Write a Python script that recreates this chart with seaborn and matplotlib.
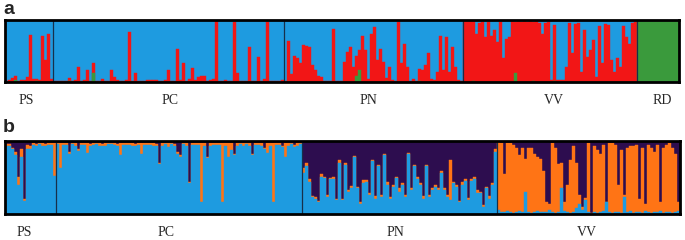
import numpy as np
import pandas as pd
import seaborn as sns
import matplotlib.pyplot as plt

# ---- panel a (K=3): per-individual red / green membership, blue is the rest
ps_a_red = [0.02, 0.03, 0.07, 0.06, 0.01, 0.03, 0.04, 0.08, 0.76, 0.05,
            0.04, 0.03, 0.74, 0.35, 0.78, 0.05]
ps_a_green = [0, 0, 0, 0.03, 0, 0, 0, 0, 0, 0, 0.01, 0, 0, 0, 0, 0]

pc_a_red = [0.01, 0.02, 0.01, 0.01, 0.02, 0.05, 0.01, 0.03, 0.25, 0.02,
            0.03, 0.19, 0.02, 0.16, 0.01, 0.02, 0.05, 0.01, 0.02, 0.19,
            0.08, 0.03, 0.01, 0.02, 0.03, 0.81, 0.02, 0.15, 0.01, 0.01,
            0.01, 0.04, 0.04, 0.04, 0.03, 0.01, 0.02, 0.03, 0.2, 0.02,
            0.01, 0.54, 0.03, 0.31, 0.02, 0.05, 0.22, 0.03, 0.08, 0.1,
            0.09, 0.02, 0.03, 0.05, 0.99, 0.02, 0.01, 0.04, 0.01, 0.02,
            0.97, 0.15, 0.02, 0.01, 0.01, 0.57, 0.01, 0.02, 0.4, 0.01,
            0.05, 0.97, 0.02, 0.01, 0.01, 0.02, 0.03]
pc_a_green = [0, 0, 0, 0, 0, 0.02, 0, 0, 0, 0,
              0, 0, 0, 0.15, 0, 0, 0, 0, 0, 0,
              0, 0, 0, 0, 0, 0, 0, 0, 0, 0,
              0, 0, 0, 0, 0, 0, 0, 0, 0, 0,
              0, 0, 0, 0, 0, 0, 0, 0, 0, 0,
              0, 0, 0, 0, 0, 0, 0, 0, 0, 0,
              0, 0, 0, 0, 0, 0, 0, 0, 0, 0,
              0, 0, 0, 0, 0, 0, 0]

pn_a_red = [0.02, 0.66, 0.13, 0.42, 0.38, 0.3, 0.6, 0.58, 0.57, 0.27,
            0.19, 0.09, 0.08, 0.02, 0.02, 0.01, 0.86, 0.01, 0.02, 0.01,
            0.32, 0.49, 0.57, 0.24, 0.32, 0.32, 0.74, 0.51, 0.05, 0.78,
            0.89, 0.35, 0.54, 0.32, 0.05, 0.24, 0.03, 0.02, 0.97, 0.3,
            0.62, 0.24, 0.02, 0.05, 0.02, 0.19, 0.19, 0.27, 0.46, 0.05,
            0.03, 0.16, 0.74, 0.19, 0.73, 0.16, 0.57, 0.24, 0.03, 0.02]
pn_a_green = [0, 0, 0, 0, 0, 0, 0, 0, 0, 0,
              0, 0, 0, 0, 0, 0, 0, 0, 0, 0,
              0, 0, 0, 0, 0.1, 0.2, 0, 0, 0, 0,
              0, 0, 0, 0, 0.02, 0, 0, 0, 0, 0,
              0, 0, 0, 0, 0, 0.02, 0, 0, 0, 0,
              0, 0, 0, 0, 0, 0, 0, 0, 0, 0]

# VV is mostly red, so the blue share hanging from the top is listed
vv_a_blue = [0.01, 0.01, 0.02, 0.01, 0.22, 0.05, 0.04, 0.27, 0.03, 0.26,
             0.16, 0.35, 0.04, 0.62, 0.3, 0.27, 0.02, 0.03, 0.02, 0.03,
             0.02, 0.04, 0.02, 0.03, 0.02, 0.05, 0.22, 0.05, 0.03, 0.97,
             0.08, 0.96, 0.97, 0.97, 0.76, 0.05, 0.54, 0.06, 0.05, 0.84,
             0.16, 0.59, 0.49, 0.32, 0.92, 0.1, 0.7, 0.06, 0.08, 0.65,
             0.84, 0.62, 0.75, 0.1, 0.27, 0.38, 0.05, 0.03]
vv_a_green = [0, 0, 0, 0.02, 0, 0, 0, 0, 0, 0,
              0, 0, 0, 0, 0, 0, 0, 0.15, 0, 0,
              0, 0, 0, 0.02, 0, 0, 0, 0, 0, 0,
              0.02, 0, 0, 0, 0, 0, 0, 0, 0, 0,
              0, 0, 0, 0, 0, 0, 0, 0, 0, 0,
              0, 0, 0, 0, 0, 0, 0, 0]

rd_a_green = [1.0] * 14

# ---- panel b (K=3): blue / orange / purple membership
ps_b_purple = [0.05, 0.05, 0.1, 0.16, 0.49, 0.12, 0.8, 0.06, 0.08, 0.04,
               0.05, 0.03, 0.04, 0.05, 0.03, 0.04, 0.03]
ps_b_orange = [0.02, 0.03, 0.02, 0.04, 0.12, 0.1, 0.02, 0.06, 0.04, 0.02,
               0.03, 0.02, 0.04, 0.02, 0.03, 0.02, 0.45]

pc_b_purple = [0.03, 0.03, 0.04, 0.03, 0.16, 0.04, 0.03, 0.12, 0.03, 0.04,
               0.03, 0.05, 0.03, 0.04, 0.03, 0.05, 0.04, 0.03, 0.04, 0.03,
               0.05, 0.03, 0.04, 0.03, 0.04, 0.03, 0.05, 0.03, 0.03, 0.04,
               0.03, 0.04, 0.03, 0.05, 0.3, 0.04, 0.03, 0.04, 0.03, 0.05,
               0.16, 0.2, 0.03, 0.04, 0.56, 0.03, 0.04, 0.03, 0.03, 0.04,
               0.22, 0.03, 0.04, 0.03, 0.04, 0.03, 0.04, 0.03, 0.03, 0.18,
               0.04, 0.03, 0.04, 0.03, 0.04, 0.18, 0.03, 0.04, 0.03, 0.1,
               0.03, 0.04, 0.03, 0.04, 0.03, 0.07, 0.03, 0.04, 0.03, 0.06,
               0.03, 0.03]
pc_b_orange = [0.02, 0.35, 0.02, 0.03, 0.02, 0.01, 0.04, 0.02, 0.03, 0.02,
               0.14, 0.02, 0.03, 0.01, 0.04, 0.02, 0.03, 0.02, 0.01, 0.03,
               0.02, 0.17, 0.02, 0.03, 0.02, 0.04, 0.02, 0.03, 0.15, 0.02,
               0.03, 0.02, 0.04, 0.02, 0.02, 0.03, 0.02, 0.05, 0.02, 0.03,
               0.02, 0.03, 0.02, 0.04, 0.02, 0.03, 0.02, 0.03, 0.8, 0.03,
               0.02, 0.04, 0.02, 0.03, 0.02, 0.8, 0.04, 0.2, 0.1, 0.02,
               0.03, 0.02, 0.04, 0.02, 0.03, 0.02, 0.03, 0.02, 0.04, 0.02,
               0.14, 0.03, 0.8, 0.02, 0.03, 0.02, 0.2, 0.03, 0.02, 0.03,
               0.04, 0.02]

pn_b_blue = [0.56, 0.65, 0.44, 0.23, 0.2, 0.16, 0.51, 0.49, 0.23, 0.47,
             0.47, 0.19, 0.7, 0.19, 0.67, 0.3, 0.35, 0.77, 0.35, 0.14,
             0.42, 0.44, 0.26, 0.72, 0.21, 0.65, 0.23, 0.8, 0.4, 0.21,
             0.37, 0.49, 0.3, 0.4, 0.23, 0.81, 0.33, 0.65, 0.47, 0.4,
             0.21, 0.65, 0.23, 0.33, 0.37, 0.33, 0.56, 0.33, 0.23, 0.19,
             0.42, 0.37, 0.16, 0.4, 0.45, 0.19, 0.45, 0.47, 0.28, 0.28,
             0.09, 0.35, 0.21, 0.4, 0.85]
pn_b_orange = [0.07, 0.05, 0.03, 0.02, 0.03, 0.02, 0.03, 0.02, 0.03, 0.02,
               0.03, 0.02, 0.03, 0.02, 0.03, 0.02, 0.03, 0.02, 0.02, 0.03,
               0.04, 0.02, 0.03, 0.02, 0.03, 0.02, 0.03, 0.02, 0.03, 0.02,
               0.03, 0.02, 0.05, 0.02, 0.03, 0.02, 0.03, 0.02, 0.03, 0.02,
               0.03, 0.02, 0.03, 0.02, 0.03, 0.02, 0.03, 0.02, 0.03, 0.55,
               0.02, 0.03, 0.02, 0.03, 0.02, 0.03, 0.02, 0.03, 0.04, 0.02,
               0.03, 0.02, 0.03, 0.02, 0.04]

vv_b_purple = [0.02, 0.04, 0.46, 0.04, 0.03, 0.06, 0.1, 0.2, 0.1, 0.25,
               0.1, 0.1, 0.18, 0.22, 0.25, 0.41, 0.84, 0.86, 0.04, 0.1,
               0.32, 0.3, 0.84, 0.6, 0.27, 0.08, 0.3, 0.74, 0.9, 0.78,
               0.04, 0.98, 0.08, 0.13, 0.18, 0.06, 0.84, 0.04, 0.04, 0.06,
               0.6, 0.13, 0.74, 0.1, 0.08, 0.08, 0.06, 0.79, 0.1, 0.86,
               0.06, 0.1, 0.15, 0.06, 0.84, 0.1, 0.06, 0.04, 0.1, 0.18,
               0.84]
vv_b_blue = [0.05, 0.03, 0.03, 0.04, 0.03, 0.02, 0.03, 0.04, 0.03, 0.3,
             0.03, 0.02, 0.03, 0.04, 0.03, 0.03, 0.03, 0.05, 0.03, 0.02,
             0.03, 0.35, 0.04, 0.03, 0.02, 0.03, 0.08, 0.14, 0.06, 0.19,
             0.03, 0.0, 0.03, 0.02, 0.03, 0.04, 0.16, 0.03, 0.02, 0.03,
             0.03, 0.02, 0.23, 0.03, 0.04, 0.02, 0.03, 0.03, 0.02, 0.04,
             0.03, 0.02, 0.03, 0.03, 0.04, 0.02, 0.03, 0.03, 0.02, 0.03,
             0.04]

pops_a = ["PS", "PC", "PN", "VV", "RD"]
pops_b = ["PS", "PC", "PN", "VV"]

BLUE = "#1E9BE0"
RED = "#F21616"
GREEN = "#3A9A3C"
ORANGE = "#FF7415"
PURPLE = "#2D0D4F"
SEP = "#17304A"

# ---- assemble tables
a_red = ps_a_red + pc_a_red + pn_a_red \
    + [1 - b - g for b, g in zip(vv_a_blue, vv_a_green)] + [0.0] * len(rd_a_green)
a_green = ps_a_green + pc_a_green + pn_a_green + vv_a_green + rd_a_green
a_sizes = [len(ps_a_red), len(pc_a_red), len(pn_a_red), len(vv_a_blue), len(rd_a_green)]
df_a = pd.DataFrame({"green": a_green, "red": a_red})
df_a["blue"] = (1 - df_a.green - df_a.red).clip(lower=0)

b_purple = ps_b_purple + pc_b_purple + [None] * len(pn_b_blue) + vv_b_purple
b_orange = ps_b_orange + pc_b_orange + pn_b_orange + [None] * len(vv_b_blue)
df_b = pd.DataFrame({"purple": b_purple, "orange": b_orange})
n1 = len(ps_b_purple) + len(pc_b_purple)
n2 = n1 + len(pn_b_blue)
df_b.loc[n1:n2 - 1, "purple"] = [1 - b - o for b, o in zip(pn_b_blue, pn_b_orange)]
df_b.loc[n2:, "orange"] = [1 - p - b for p, b in zip(vv_b_purple, vv_b_blue)]
df_b = df_b.astype(float)
df_b["blue"] = (1 - df_b.purple - df_b.orange).clip(lower=0)
b_sizes = [len(ps_b_purple), len(pc_b_purple), len(pn_b_blue), len(vv_b_purple)]


def structure(ax, df, layers, colors, sizes):
    """stacked membership bars, bottom layer first"""
    cum = df[layers].cumsum(axis=1)
    x = np.arange(len(df))
    for col, c in reversed(list(zip(layers, colors))):
        sns.barplot(x=x, y=cum[col].to_numpy(), color=c, width=1, errorbar=None,
                    saturation=1, linewidth=0.3, edgecolor=c, ax=ax)
    for edge in np.cumsum(sizes)[:-1]:
        ax.axvline(edge - 0.5, color=SEP, lw=0.9)
    ax.set_xlim(-0.5, len(df) - 0.5)
    ax.set_ylim(0, 1)
    ax.set(xticks=[], yticks=[], xlabel="", ylabel="")
    for s in ax.spines.values():
        s.set_visible(True)
        s.set_linewidth(2)
        s.set_color("black")


sns.set_style("white")
W, H = 685, 240
fig = plt.figure(figsize=(W / 100, H / 100), dpi=100)
ax_a = fig.add_axes([5 / W, 1 - 82 / H, 674 / W, 62 / H])
ax_b = fig.add_axes([5 / W, 1 - 214 / H, 675 / W, 73.5 / H])

structure(ax_a, df_a, ["green", "red", "blue"], [GREEN, RED, BLUE], a_sizes)
structure(ax_b, df_b, ["blue", "orange", "purple"], [BLUE, ORANGE, PURPLE], b_sizes)

fig.text(3 / W, 1 - 9 / H, "a", fontsize=14, fontweight="bold",
         family="Liberation Sans", va="center")
fig.text(3 / W, 1 - 127 / H, "b", fontsize=14, fontweight="bold",
         family="Liberation Sans", va="center")

label_x_a = [26, 170, 368, 554, 662]
label_x_b = [24, 166, 395, 587]
for lab, x in zip(pops_a, label_x_a):
    fig.text(x / W, 1 - 101 / H, lab, fontsize=10, family="Liberation Serif",
             ha="center", va="center")
for lab, x in zip(pops_b, label_x_b):
    fig.text(x / W, 1 - 232 / H, lab, fontsize=10, family="Liberation Serif",
             ha="center", va="center")

fig.savefig("out.png", dpi=100)
